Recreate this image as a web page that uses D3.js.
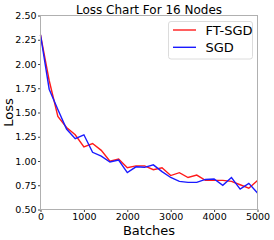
<!DOCTYPE html>
<html>
<head>
<meta charset="utf-8">
<script src="https://cdn.jsdelivr.net/npm/d3@7"></script>
<style>
  body { margin: 0; background: #fff; }
  text { font-family: "DejaVu Sans", sans-serif; fill: #000; }
</style>
</head>
<body>
<svg width="274" height="240"></svg>
<script>
  var batches = [0,200,400,600,800,1000,1200,1400,1600,1800,2000,2200,2400,2600,2800,3000,3200,3400,3600,3800,4000,4200,4400,4600,4800,5000];
  var ftsgd = [2.30,1.83,1.46,1.345,1.27,1.145,1.18,1.11,0.997,1.02,0.93,0.95,0.95,0.91,0.93,0.85,0.88,0.83,0.855,0.80,0.80,0.80,0.79,0.755,0.72,0.80];
  var sgd = [2.30,1.74,1.53,1.33,1.23,1.27,1.09,1.05,0.99,1.01,0.88,0.94,0.935,0.96,0.89,0.83,0.79,0.78,0.78,0.81,0.815,0.75,0.83,0.71,0.77,0.67];
  var xTicks = [0,1000,2000,3000,4000,5000];
  var yTicks = [0.50,0.75,1.00,1.25,1.50,1.75,2.00,2.25,2.50];

  var svg = d3.select('svg');
  var plotLeft = 40.5, plotRight = 257.5, plotTop = 15.5, plotBottom = 209.5;

  var x = d3.scaleLinear().domain([0,5000]).range([plotLeft,plotRight]);
  var y = d3.scaleLinear().domain([0.5,2.5]).range([plotBottom,plotTop]);

  // axes
  svg.append("g")
      .attr("transform","translate(0,"+plotBottom+")")
      .call(d3.axisBottom(x).tickValues(xTicks).tickSize(2.5).tickPadding(1.5).tickFormat(d3.format("d")))
      .call(function(g){
        g.select(".domain").remove();
        g.selectAll("line").attr("stroke","#444");
        g.selectAll("text").style("font-size","9.5px").attr("fill","#000");
      });
  svg.append("g")
      .attr("transform","translate("+plotLeft+",0)")
      .call(d3.axisLeft(y).tickValues(yTicks).tickSize(2.5).tickPadding(1.5).tickFormat(d3.format(".2f")))
      .call(function(g){
        g.select(".domain").remove();
        g.selectAll("line").attr("stroke","#444");
        g.selectAll("text").style("font-size","9.5px").attr("fill","#000");
      });

  // lines
  var line = d3.line()
      .x(function(d,i){ return x(batches[i]); })
      .y(function(d){ return y(d); });

  svg.append("path").datum(ftsgd)
      .attr("d",line).attr("fill","none").attr("stroke","#ff1a1a").attr("stroke-width",1.4);
  svg.append("path").datum(sgd)
      .attr("d",line).attr("fill","none").attr("stroke","#1a1aff").attr("stroke-width",1.4);

  // frame
  svg.append("rect")
      .attr("x",plotLeft).attr("y",plotTop)
      .attr("width",plotRight-plotLeft).attr("height",plotBottom-plotTop)
      .attr("fill","none").attr("stroke","#b0b0b0").attr("stroke-width",1);

  // title and labels
  svg.append("text")
      .attr("x",(plotLeft+plotRight)/2).attr("y",13.5)
      .attr("text-anchor","middle")
      .style("font-size","12px")
      .text("Loss Chart For 16 Nodes");
  svg.append("text")
      .attr("x",(plotLeft+plotRight)/2).attr("y",235)
      .attr("text-anchor","middle")
      .style("font-size","13px")
      .text("Batches");
  svg.append("text")
      .attr("transform","translate(13,"+((plotTop+plotBottom)/2)+") rotate(-90)")
      .attr("text-anchor","middle")
      .style("font-size","13px")
      .text("Loss");

  // legend
  var legend = svg.append("g");
  legend.append("rect")
      .attr("x",168.5).attr("y",21.5).attr("width",84).attr("height",37.5)
      .attr("rx",2.5).attr("fill","#fff").attr("stroke","#dcdcdc");
  var items = [{name:"FT-SGD", color:"#ff1a1a"},{name:"SGD", color:"#1a1aff"}];
  items.forEach(function(d,i){
    var ly = 30 + i*17.3;
    legend.append("line")
        .attr("x1",173).attr("x2",196).attr("y1",ly).attr("y2",ly)
        .attr("stroke",d.color).attr("stroke-width",1.4);
    legend.append("text")
        .attr("x",205.5).attr("y",ly+4.8)
        .style("font-size","13px")
        .text(d.name);
  });
</script>
</body>
</html>
